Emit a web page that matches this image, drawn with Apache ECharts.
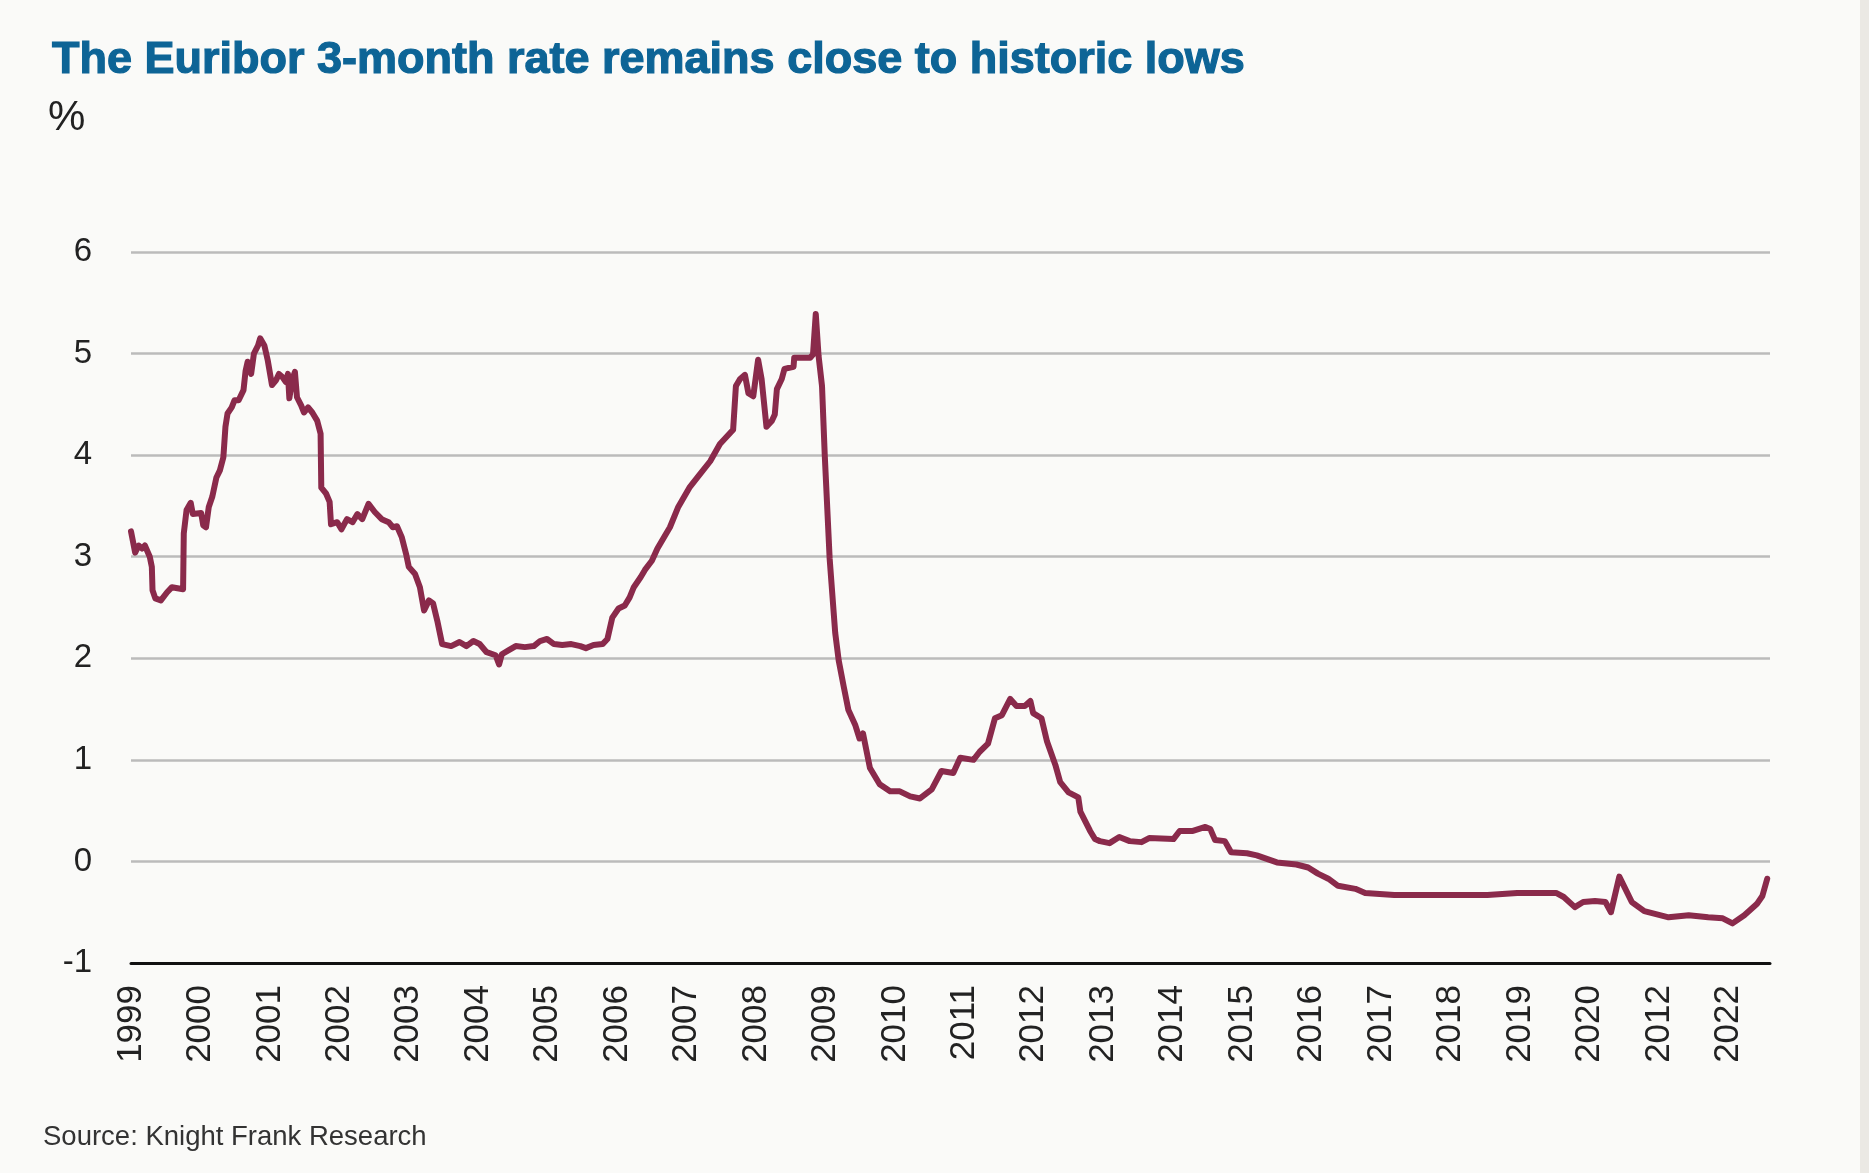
<!DOCTYPE html>
<html>
<head>
<meta charset="utf-8">
<script src="https://cdn.jsdelivr.net/npm/echarts@6/dist/echarts.min.js"></script>
<style>
html,body{margin:0;padding:0;background:#fafaf8;}
#chart{width:1869px;height:1173px;}
</style>
</head>
<body>
<div id="chart"></div>
<script>
// Time in decimal years
const dates = [
1999.00,1999.06,1999.11,1999.16,1999.20,1999.27,1999.30,1999.31,1999.35,1999.43,1999.52,1999.59,1999.75,
1999.76,1999.80,1999.86,1999.89,2000.01,2000.04,2000.08,2000.12,2000.17,2000.23,2000.28,2000.33,2000.36,
2000.39,2000.45,2000.49,2000.55,2000.62,2000.65,2000.68,2000.73,2000.77,2000.83,2000.86,2000.92,2000.97,
2001.03,2001.09,2001.13,2001.18,2001.23,2001.26,2001.28,2001.32,2001.36,2001.39,2001.45,2001.49,2001.55,
2001.61,2001.68,2001.73,2001.74,2001.81,2001.86,2001.88,2001.97,2002.03,2002.11,2002.19,2002.26,2002.33,
2002.42,2002.51,2002.61,2002.71,2002.77,2002.83,2002.90,2002.96,2003.00,2003.09,2003.16,2003.22,2003.29,
2003.35,2003.41,2003.48,2003.61,2003.73,2003.83,2003.93,2004.02,2004.12,2004.25,2004.30,2004.34,2004.44,
2004.54,2004.67,2004.80,2004.89,2004.99,2005.09,2005.21,2005.34,2005.47,2005.55,2005.66,2005.79,2005.86,
2005.93,2006.02,2006.11,2006.18,2006.24,2006.34,2006.40,2006.50,2006.58,2006.69,2006.76,2006.88,2007.04,
2007.19,2007.34,2007.48,2007.67,2007.71,2007.77,2007.84,2007.89,2007.96,2008.03,2008.08,2008.15,2008.23,
2008.27,2008.30,2008.37,2008.41,2008.54,2008.55,2008.78,2008.82,2008.86,2008.90,2008.95,2008.99,2009.06,
2009.14,2009.19,2009.26,2009.33,2009.43,2009.49,2009.54,2009.64,2009.78,2009.93,2010.07,2010.22,2010.36,
2010.53,2010.67,2010.84,2010.94,2011.13,2011.22,2011.34,2011.44,2011.54,2011.66,2011.75,2011.87,2011.95,
2011.99,2012.11,2012.19,2012.31,2012.38,2012.50,2012.64,2012.67,2012.81,2012.88,2012.95,2013.09,2013.23,
2013.38,2013.55,2013.66,2014.01,2014.10,2014.29,2014.47,2014.54,2014.61,2014.75,2014.84,2015.07,2015.21,
2015.50,2015.78,2015.95,2016.09,2016.24,2016.38,2016.63,2016.77,2017.19,2017.90,2018.53,2018.96,2019.52,
2019.63,2019.79,2019.91,2020.08,2020.23,2020.31,2020.43,2020.51,2020.61,2020.79,2021.14,2021.43,2021.71,
2021.92,2022.06,2022.23,2022.41,2022.49,2022.56
];
// Euribor 3-month rate, %
const rates = [
3.25,3.04,3.11,3.08,3.11,3.00,2.90,2.67,2.59,2.57,2.65,2.70,2.68,
3.23,3.46,3.53,3.42,3.43,3.31,3.29,3.49,3.59,3.78,3.85,3.98,4.28,
4.41,4.47,4.54,4.54,4.64,4.83,4.92,4.80,5.00,5.08,5.15,5.08,4.93,
4.69,4.74,4.80,4.77,4.72,4.80,4.56,4.74,4.82,4.57,4.49,4.42,4.47,
4.42,4.34,4.21,3.68,3.62,3.54,3.32,3.34,3.27,3.37,3.34,3.42,3.37,
3.52,3.44,3.37,3.34,3.29,3.30,3.19,3.03,2.90,2.83,2.70,2.47,2.57,
2.54,2.37,2.14,2.12,2.16,2.12,2.17,2.14,2.06,2.03,1.94,2.04,2.08,
2.12,2.11,2.12,2.17,2.19,2.14,2.13,2.14,2.12,2.10,2.13,2.14,2.19,
2.40,2.49,2.52,2.60,2.70,2.80,2.87,2.96,3.08,3.21,3.29,3.49,3.68,
3.81,3.94,4.11,4.25,4.68,4.75,4.79,4.61,4.58,4.94,4.75,4.28,4.34,
4.40,4.65,4.75,4.85,4.87,4.96,4.96,4.99,5.39,4.98,4.68,3.99,2.98,
2.25,1.98,1.73,1.49,1.34,1.21,1.26,0.92,0.76,0.69,0.69,0.64,0.62,
0.71,0.89,0.87,1.02,1.00,1.08,1.16,1.41,1.44,1.60,1.53,1.53,1.58,
1.46,1.41,1.18,0.95,0.78,0.68,0.63,0.49,0.30,0.22,0.20,0.18,0.24,
0.20,0.19,0.23,0.22,0.30,0.30,0.34,0.32,0.21,0.20,0.09,0.08,0.06,
-0.01,-0.03,-0.06,-0.12,-0.17,-0.24,-0.27,-0.31,-0.33,-0.33,-0.33,-0.31,-0.31,
-0.35,-0.45,-0.40,-0.39,-0.40,-0.50,-0.15,-0.26,-0.40,-0.49,-0.55,-0.53,-0.55,
-0.56,-0.61,-0.53,-0.42,-0.34,-0.17
];
const firstYear = 1999;
const tickLabels = ['1999','2000','2001','2002','2003','2004','2005','2006','2007','2008','2009','2010',
  '2011','2012','2013','2014','2015','2016','2017','2018','2019','2020','2012','2022'];
const yTicks = [-1,0,1,2,3,4,5,6];

const titleText = 'The Euribor 3-month rate remains close to historic lows';
const unitText = '%';
const sourceText = 'Source: Knight Frank Research';

const chart = echarts.init(document.getElementById('chart'), null, {renderer:'canvas'});
const seriesData = dates.map((d,i)=>[d, rates[i]]);

chart.setOption({
  backgroundColor:'#fafaf8',
  animation:false,
  title:{
    text:titleText,
    left:47, top:33,
    textStyle:{fontFamily:'Liberation Sans', fontWeight:'bold', fontSize:45, color:'#0d6496',
      textBorderColor:'#0d6496', textBorderWidth:1.2}
  },
  graphic:[
    {type:'text', left:48, top:97, style:{text:unitText, font:'300 42px "Liberation Sans"', fill:'#222'}},
    {type:'text', left:43, top:1123, style:{text:sourceText, font:'27.5px "Liberation Sans"', fill:'#333'}},
    {type:'rect', shape:{x:1860,y:0,width:9,height:1173}, style:{fill:'#ebe9e4'}}
  ],
  grid:{left:131, right:99, top:252, bottom:210, containLabel:false},
  xAxis:{
    type:'value',
    min:firstYear, max:2022.6, interval:1,
    axisLine:{show:true, onZero:false, lineStyle:{color:'#111', width:3}},
    axisTick:{show:false},
    splitLine:{show:false},
    axisLabel:{
      rotate:90, margin:22, fontSize:35, fontFamily:'Liberation Sans', color:'#222',
      showMaxLabel:false,
      formatter:function(v){
        const r = Math.round(v);
        if (Math.abs(v-r) > 1e-6) return '';
        return tickLabels[r-firstYear] || '';
      }
    }
  },
  yAxis:{
    type:'value',
    min:yTicks[0], max:yTicks[yTicks.length-1], interval:1,
    axisLine:{show:false},
    axisTick:{show:false},
    splitLine:{show:true, lineStyle:{color:'#bbbbbb', width:2.5}},
    axisLabel:{margin:39, fontSize:33, fontFamily:'Liberation Sans', color:'#222'}
  },
  series:[{
    type:'line',
    data:seriesData,
    showSymbol:false,
    smooth:false,
    sampling:null,
    lineStyle:{color:'#8a2a4b', width:6, join:'round', cap:'round'},
    z:3
  }]
});
</script>
</body>
</html>
